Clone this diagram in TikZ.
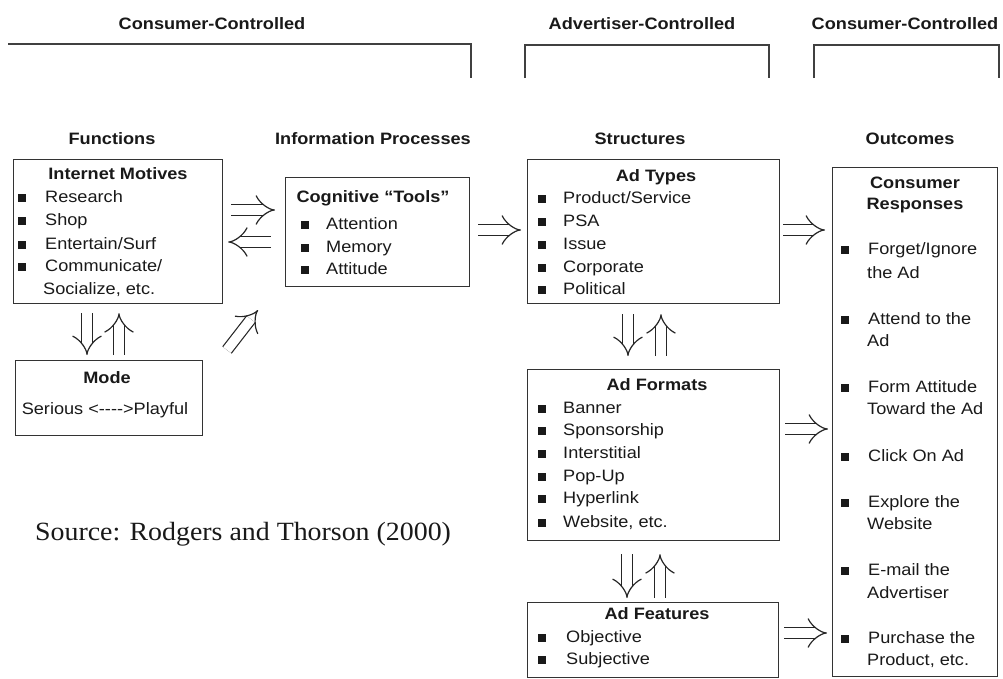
\documentclass[tikz,border=0pt]{standalone}
\usepackage{fontspec}
\setmainfont{Liberation Sans}[FakeStretch=1.1]
\newfontfamily\srcfont{Liberation Serif}[FakeStretch=1.06]
\usetikzlibrary{arrows.meta}
\newcommand\fs{\fontsize{16.5pt}{20pt}\selectfont}
\newcommand\blt{\rule[0.5pt]{7.5pt}{7.5pt}}
\newcommand\bitem[2]{\makebox[#1][l]{\blt}#2}
\begin{document}
\begin{tikzpicture}[x=1pt,y=-1pt,
  every node/.style={font=\fs, inner sep=0pt, text=black!90},
  hdr/.style={font=\fs\bfseries, anchor=base},
  itm/.style={anchor=base west},
  box/.style={draw=black!80, line width=1.2pt, anchor=north west},
  brk/.style={draw=black!75, line width=1.4pt},
  dbl/.style={draw=black!85, double, double distance=9.5pt, line width=1.2pt, -{Implies[scale=1.5]}}]
\useasboundingbox (0,0) rectangle (1003,678);

% top brackets
\node[hdr] (cc1) at (212,29) {Consumer-Controlled};
\node[hdr] (ac) at (642,29) {Advertiser-Controlled};
\node[hdr] (cc2) at (905,29) {Consumer-Controlled};
\draw[brk] (8,44) -- (471,44) -- (471,78);
\draw[brk] (525,78) -- (525,45) -- (769,45) -- (769,78);
\draw[brk] (814,78) -- (814,45) -- (999,45) -- (999,78);

% column headers
\node[hdr] (hf) at (112,144) {Functions};
\node[hdr] (hi) at (373,144) {Information Processes};
\node[hdr] (hs) at (640,144) {Structures};
\node[hdr] (ho) at (910,144) {Outcomes};

% boxes
\node[box, minimum width=209pt, minimum height=144pt] (im) at (13,159) {};
\node[box, minimum width=187pt, minimum height=75pt] (mode) at (15,360) {};
\node[box, minimum width=184pt, minimum height=109pt] (cog) at (285,177) {};
\node[box, minimum width=252pt, minimum height=144pt] (at) at (527,159) {};
\node[box, minimum width=252pt, minimum height=171pt] (af) at (527,369) {};
\node[box, minimum width=251pt, minimum height=75pt] (ft) at (527,602) {};
\node[box, minimum width=165pt, minimum height=509pt] (cr) at (832,167) {};

% Internet Motives
\node[hdr] (imt) at (118,179) {Internet Motives};
\foreach \y/\t [count=\i] in {202/Research, 225/Shop, 249/{Entertain/Surf}, 271/{Communicate/}}
  \node[itm] (im\i) at (18,\y) {\bitem{27pt}{\t}};
\node[itm] (im5) at (43,294) {Socialize, etc.};

% Mode
\node[hdr] (modet) at (107,383) {Mode};
\node[hdr, font=\fs] (model) at (105,414) {Serious <-{}-{}-{}->Playful};

% Cognitive tools
\node[hdr] (cogt) at (373,202) {Cognitive ``Tools''};
\foreach \y/\t [count=\i] in {229/Attention, 252/Memory, 274/Attitude}
  \node[itm] (cog\i) at (301,\y) {\bitem{25pt}{\t}};

% Ad Types
\node[hdr] (att) at (656,181) {Ad Types};
\foreach \y/\t [count=\i] in {203/{Product/Service}, 226/PSA, 249/Issue, 272/Corporate, 294/Political}
  \node[itm] (at\i) at (538,\y) {\bitem{25pt}{\t}};

% Ad Formats
\node[hdr] (aft) at (657,390) {Ad Formats};
\foreach \y/\t [count=\i] in {413/Banner, 435/Sponsorship, 458/Interstitial, 481/Pop-Up, 503/Hyperlink, 527/{Website, etc.}}
  \node[itm] (af\i) at (538,\y) {\bitem{25pt}{\t}};

% Ad Features
\node[hdr] (ftt) at (657,619) {Ad Features};
\foreach \y/\t [count=\i] in {642/Objective, 664/Subjective}
  \node[itm] (ft\i) at (538,\y) {\bitem{28pt}{\t}};

% Consumer responses
\node[hdr] (crt1) at (915,188) {Consumer};
\node[hdr] (crt2) at (915,209) {Responses};
\foreach \y/\t [count=\i] in {254/{Forget/Ignore}, 324/Attend to the, 392/Form Attitude, 461/Click On Ad, 507/Explore the, 575/E-mail the, 643/Purchase the}
  \node[itm] (cr\i) at (841,\y) {\bitem{27pt}{\t}};
\foreach \y/\t [count=\i] in {278/the Ad, 346/Ad, 414/Toward the Ad, 529/Website, 598/Advertiser, 665/{Product, etc.}}
  \node[itm] (crc\i) at (867,\y) {\t};

% source
\node[anchor=base west, font=\srcfont\fontsize{26.3pt}{30pt}\selectfont] (src) at (35,540) {Source: Rodgers and Thorson (2000)};

% arrows
\draw[dbl, shorten <=8pt, shorten >=10pt] (im.east |- 0,210) -- (cog.west |- 0,210);
\draw[dbl, shorten <=14pt, shorten >=5pt] (cog.west |- 0,242) -- (im.east |- 0,242);
\draw[dbl, shorten <=9pt, shorten >=5pt] (im.south -| 87,0) -- (mode.north -| 87,0);
\draw[dbl, shorten <=5pt, shorten >=9pt] (mode.north -| 119,0) -- (im.south -| 119,0);
\coordinate (d1) at (227,350);
\coordinate (d2) at (258,310);
\draw[dbl] (d1) -- (d2);
\draw[dbl, shorten <=8pt, shorten >=6pt] (cog.east |- 0,230) -- (at.west |- 0,230);
\draw[dbl, shorten <=3pt, shorten >=7pt] (at.east |- 0,230) -- (cr.west |- 0,230);
\draw[dbl, shorten <=10pt, shorten >=13pt] (at.south -| 628,0) -- (af.north -| 628,0);
\draw[dbl, shorten <=13pt, shorten >=10pt] (af.north -| 661,0) -- (at.south -| 661,0);
\draw[dbl, shorten <=5pt, shorten >=4pt] (af.east |- 0,429) -- (cr.west |- 0,429);
\draw[dbl, shorten <=13pt, shorten >=4pt] (af.south -| 627,0) -- (ft.north -| 627,0);
\draw[dbl, shorten <=4pt, shorten >=13pt] (ft.north -| 660,0) -- (af.south -| 660,0);
\draw[dbl, shorten <=5pt, shorten >=5pt] (ft.east |- 0,633) -- (cr.west |- 0,633);
\end{tikzpicture}
\end{document}
